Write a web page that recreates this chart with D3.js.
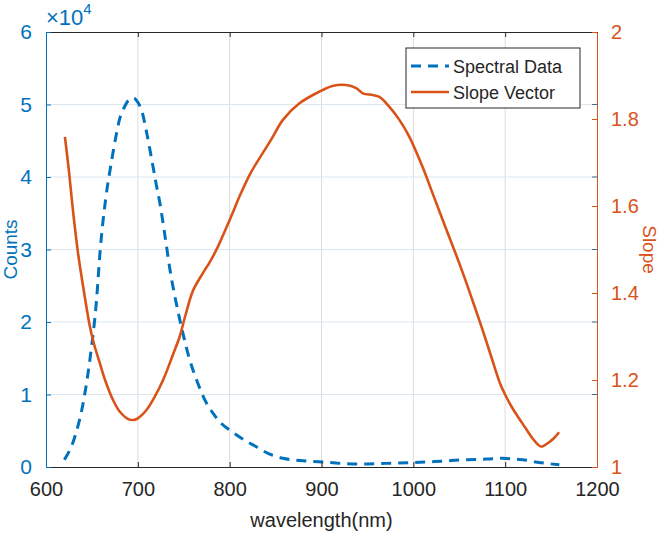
<!DOCTYPE html>
<html><head><meta charset="utf-8">
<script src="https://cdn.jsdelivr.net/npm/d3@7"></script>
<style>body{margin:0;background:#fff}svg{display:block;font-family:"Liberation Sans",Arial,sans-serif}</style>
</head><body><svg id="c" width="666" height="537"></svg>
<script>
const xTicks = [600,700,800,900,1000,1100,1200];
const countTicks = [0,1,2,3,4,5,6];
const slopeTicks = [1,1.2,1.4,1.6,1.8,2];

const specWl = [620,631,641,648,655,659,665,671,676,680,686,690,695,700,705,709,715,720,724,730,735,742,749,756,764,772,782,791,800,815,829,843,858,876,901,920,941,970,999,1030,1057,1080,1097,1110,1125,1133,1145,1159];
const specCounts = [0.10,0.40,0.92,1.50,2.30,2.99,3.70,4.19,4.55,4.79,4.98,5.06,5.09,5.03,4.88,4.65,4.25,3.90,3.64,3.15,2.72,2.25,1.85,1.50,1.20,0.95,0.74,0.60,0.51,0.38,0.28,0.18,0.12,0.09,0.07,0.05,0.04,0.05,0.06,0.08,0.10,0.11,0.12,0.11,0.09,0.07,0.05,0.03];

const slopeWl = [620.6,625,629.7,635,640.5,647.8,652,658.7,665,673,680,688,694.9,700,709.4,718,727.5,738,745.6,752,760,770,778,785.5,800,812,822.6,829,845,858,876,897.8,912,926.8,937.7,945,955.8,963,974,984.8,995.7,1010,1021,1033,1046,1057,1068,1077,1086,1095,1101,1108,1115,1122,1129.7,1135,1138.8,1143,1147.8,1153,1158.7];
const slopeVals = [1.759,1.68,1.583,1.49,1.414,1.323,1.285,1.238,1.196,1.154,1.128,1.112,1.108,1.112,1.131,1.16,1.2,1.257,1.30,1.35,1.405,1.443,1.47,1.499,1.568,1.628,1.675,1.698,1.752,1.798,1.836,1.863,1.876,1.878,1.871,1.859,1.855,1.851,1.828,1.798,1.759,1.69,1.629,1.562,1.491,1.428,1.361,1.305,1.246,1.189,1.162,1.135,1.112,1.09,1.066,1.053,1.047,1.05,1.057,1.066,1.08];

const blue = "#0072BD", orange = "#D95319";
const L = 46, R = 597, T = 32, B = 467;
const svg = d3.select("#c");
const x = d3.scaleLinear().domain([600,1200]).range([L,R]);
const yL = d3.scaleLinear().domain([0,6]).range([B,T]);
const yR = d3.scaleLinear().domain([1,2]).range([B,T]);

// grid
svg.append("g").selectAll("line").data(xTicks.slice(1,-1)).join("line")
  .attr("x1",d=>x(d)).attr("x2",d=>x(d)).attr("y1",T).attr("y2",B)
  .attr("stroke","#dcdcdc").attr("stroke-width",1);
svg.append("g").selectAll("line").data(countTicks.slice(1,-1)).join("line")
  .attr("x1",L).attr("x2",R).attr("y1",d=>yL(d)).attr("y2",d=>yL(d))
  .attr("stroke","#dbe6ef").attr("stroke-width",1);

// lines
const specLine = d3.line().x((d,i)=>x(specWl[i])).y(d=>yL(d)).curve(d3.curveMonotoneX);
svg.append("path").attr("d",specLine(specCounts)).attr("fill","none")
  .attr("stroke",blue).attr("stroke-width",3).attr("stroke-dasharray","10,7");
const slopeLine = d3.line().x((d,i)=>x(slopeWl[i])).y(d=>yR(d)).curve(d3.curveCatmullRom.alpha(0.5));
svg.append("path").attr("d",slopeLine(slopeVals)).attr("fill","none")
  .attr("stroke",orange).attr("stroke-width",2.6);

// axes
const fs = 20;
const gx = svg.append("g").attr("transform",`translate(0,${B})`)
  .call(d3.axisBottom(x).tickValues(xTicks).tickSizeInner(-5).tickSizeOuter(0).tickPadding(15).tickFormat(d3.format("d")));
gx.select(".domain").attr("stroke","#262626");
gx.selectAll(".tick line").attr("stroke","#262626");
gx.selectAll("text").attr("fill","#262626").style("font-size",fs+"px");
const gt = svg.append("g").attr("transform",`translate(0,${T})`)
  .call(d3.axisTop(x).tickValues(xTicks).tickSizeInner(-5).tickSizeOuter(0).tickFormat(""));
gt.select(".domain").attr("stroke","#262626");
gt.selectAll(".tick line").attr("stroke","#262626");

const gl = svg.append("g").attr("transform",`translate(${L},0)`)
  .call(d3.axisLeft(yL).tickValues(countTicks).tickSizeInner(-5).tickSizeOuter(0).tickPadding(14).tickFormat(d3.format("d")));
gl.select(".domain").attr("stroke",blue);
gl.selectAll(".tick line").attr("stroke",blue);
gl.selectAll("text").attr("fill",blue).style("font-size",(fs+1)+"px");

// left-axis ticks on right side
svg.append("g").selectAll("line").data(countTicks.slice(1,-1)).join("line")
  .attr("x1",R-5).attr("x2",R).attr("y1",d=>yL(d)).attr("y2",d=>yL(d))
  .attr("stroke","#3d6d94").attr("stroke-width",1);

const gr = svg.append("g").attr("transform",`translate(${R},0)`)
  .call(d3.axisRight(yR).tickValues(slopeTicks).tickSizeInner(-5).tickSizeOuter(0).tickPadding(14)
  .tickFormat(d=>d3.format("~g")(d)));
gr.select(".domain").attr("stroke",orange);
gr.selectAll(".tick line").attr("stroke",orange);
gr.selectAll("text").attr("fill",orange).style("font-size",fs+"px");

// exponent label
const ex = svg.append("text").attr("x",46).attr("y",25).attr("fill",blue).style("font-size","22px");
ex.append("tspan").text("\u00d710");
ex.append("tspan").attr("dy",-11).style("font-size","15px").text("4");

// titles
svg.append("text").attr("x",(L+R)/2).attr("y",527).attr("text-anchor","middle")
  .attr("fill","#262626").style("font-size","20px").text("wavelength(nm)");
svg.append("text").attr("transform",`translate(17,${(T+B)/2}) rotate(-90)`).attr("text-anchor","middle")
  .attr("fill",blue).style("font-size","19px").text("Counts");
svg.append("text").attr("transform",`translate(643,${(T+B)/2}) rotate(90)`).attr("text-anchor","middle")
  .attr("fill",orange).style("font-size","19px").text("Slope");

// legend
const lg = svg.append("g");
lg.append("rect").attr("x",406).attr("y",48).attr("width",174).attr("height",60)
  .attr("fill","#fff").attr("stroke","#262626").attr("stroke-width",1);
const legItems = [{name:"Spectral Data",color:blue,dash:"10,7",w:3},{name:"Slope Vector",color:orange,dash:null,w:2.6}];
legItems.forEach((it,i)=>{
  const yy = 66 + i*26;
  lg.append("line").attr("x1",411).attr("x2",449).attr("y1",yy).attr("y2",yy)
    .attr("stroke",it.color).attr("stroke-width",it.w).attr("stroke-dasharray",it.dash);
  lg.append("text").attr("x",453).attr("y",yy+6.5).attr("fill","#262626").style("font-size","18px").text(it.name);
});
</script></body></html>
